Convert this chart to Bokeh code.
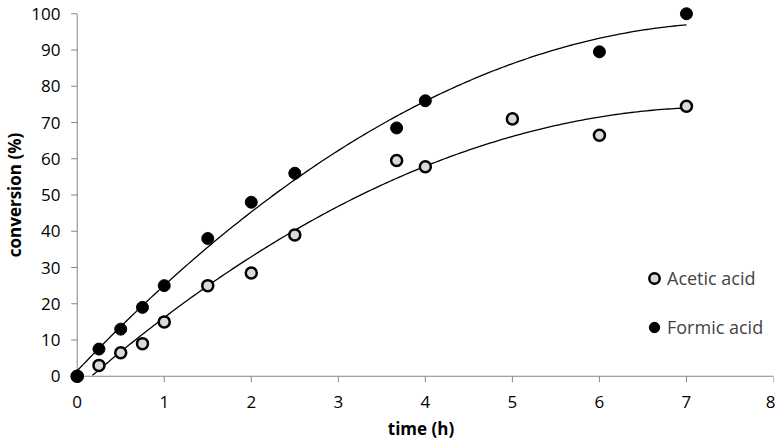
import numpy as np
from bokeh.plotting import figure
from bokeh.models import Range1d, FixedTicker, Legend, LegendItem
from bokeh.embed import file_html
from bokeh.resources import INLINE

acetic_t = [0, 0.25, 0.5, 0.75, 1, 1.5, 2, 2.5, 3.67, 4, 5, 6, 7]
acetic_c = [0, 3, 6.5, 9, 15, 25, 28.5, 39, 59.5, 57.8, 71, 66.5, 74.5]
formic_t = [0, 0.25, 0.5, 0.75, 1, 1.5, 2, 2.5, 3.67, 4, 6, 7]
formic_c = [0, 7.5, 13, 19, 25, 38, 48, 56, 68.5, 76, 89.5, 100]
x_ticks = [0, 1, 2, 3, 4, 5, 6, 7, 8]
y_ticks = [0, 10, 20, 30, 40, 50, 60, 70, 80, 90, 100]

FONT = "Open Sans"
AXC = "#868686"

W, H = 775, 442
BL, BR, BT, BB = 68, 2, 6, 59
X0, X1 = -0.1, 8
Y0, Y1 = -2, 102
p = figure(width=W, height=H, output_backend="svg", toolbar_location=None,
           x_range=Range1d(X0, X1), y_range=Range1d(Y0, Y1),
           min_border_left=BL, min_border_right=BR, min_border_top=BT, min_border_bottom=BB)
p.outline_line_color = None
p.grid.visible = False

# label-only axes at the frame edges
for ax in (p.xaxis[0], p.yaxis[0]):
    ax.axis_line_color = None
    ax.major_tick_line_color = None
    ax.minor_tick_line_color = None
    ax.major_tick_in = 0
    ax.major_tick_out = 0
    ax.major_label_text_font = FONT
    ax.major_label_text_font_size = "17px"
    ax.major_label_text_color = "#000000"
    ax.axis_label_text_font = FONT
    ax.axis_label_text_font_size = "17px"
    ax.axis_label_text_font_style = "bold"
    ax.axis_label_text_color = "#000000"
p.xaxis.ticker = FixedTicker(ticks=x_ticks)
p.yaxis.ticker = FixedTicker(ticks=y_ticks)
p.xaxis.axis_label = "time (h)"
p.yaxis.axis_label = "conversion (%)"
p.xaxis.major_label_standoff = 12
p.yaxis.major_label_standoff = 8
p.xaxis.axis_label_standoff = 6
p.yaxis.axis_label_standoff = 2

# axis lines and outward ticks drawn at the data origin
frame_w = W - BL - BR
frame_h = H - BT - BB
tick_dx = 6 * (X1 - X0) / frame_w
tick_dy = 6 * (Y1 - Y0) / frame_h
p.segment(x0=[x_ticks[0]], y0=[0], x1=[x_ticks[-1]], y1=[0], line_color=AXC, line_width=1)
p.segment(x0=[0], y0=[y_ticks[0]], x1=[0], y1=[y_ticks[-1]], line_color=AXC, line_width=1)
p.segment(x0=x_ticks, y0=[0] * len(x_ticks), x1=x_ticks, y1=[-tick_dy] * len(x_ticks),
          line_color=AXC, line_width=1)
p.segment(x0=[0] * len(y_ticks), y0=y_ticks, x1=[-tick_dx] * len(y_ticks), y1=y_ticks,
          line_color=AXC, line_width=1)

# quadratic trendlines
xs = np.linspace(0, 7, 200)
ca = np.polyfit(acetic_t, acetic_c, 2)
cf = np.polyfit(formic_t, formic_c, 2)
ya = np.polyval(ca, xs)
keep = ya >= 0
p.line(xs[keep], ya[keep], line_color="black", line_width=1.3)
p.line(xs, np.polyval(cf, xs), line_color="black", line_width=1.3)

ra = p.scatter(acetic_t, acetic_c, size=11, fill_color="#d9d9d9", line_color="black", line_width=2.5)
rf = p.scatter(formic_t, formic_c, size=12, fill_color="black", line_color="black", line_width=1)

legend = Legend(items=[LegendItem(label="Acetic acid", renderers=[ra]),
                       LegendItem(label="Formic acid", renderers=[rf])],
                location=(573, 43))
legend.border_line_color = None
legend.background_fill_alpha = 0
legend.label_text_font = FONT
legend.label_text_font_size = "18px"
legend.spacing = 23
legend.glyph_width = 26
legend.glyph_height = 26
legend.label_standoff = 0
legend.padding = 0
p.add_layout(legend)

open("out.html", "w").write(file_html(p, INLINE))
